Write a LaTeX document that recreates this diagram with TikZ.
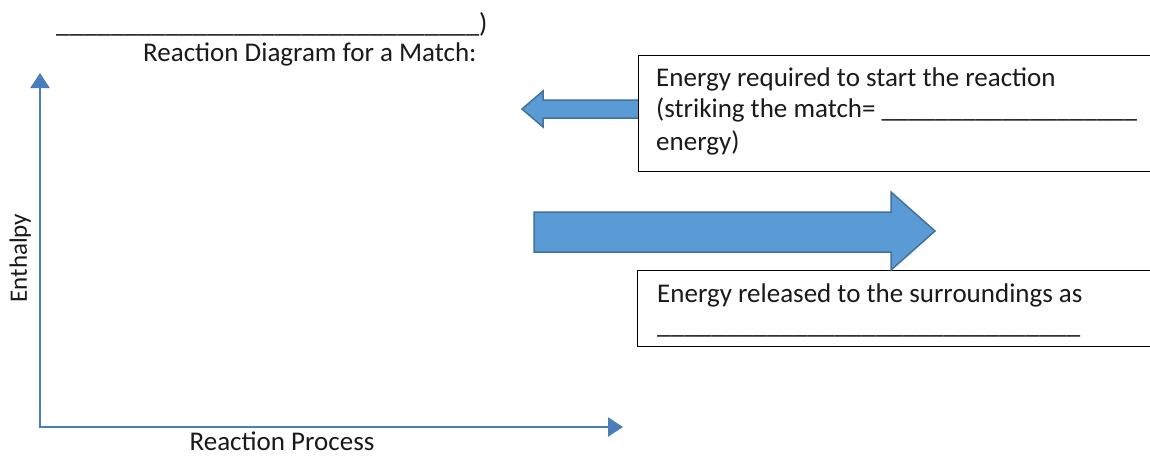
\documentclass[tikz,border=0pt]{standalone}
\usepackage{fontspec}
\setmainfont{Carlito}
\usetikzlibrary{arrows.meta}
\definecolor{axisblue}{HTML}{4A7EBB}
\definecolor{arrowfill}{HTML}{5B9BD5}
\definecolor{arrowedge}{HTML}{41719C}
\definecolor{txtgray}{HTML}{1A1A1A}
\newcommand{\blanks}[1]{\foreach \i in {1,...,#1}{\_}}
\begin{document}
\begin{tikzpicture}[x=1pt,y=-1pt,
  txt/.style={inner sep=0pt,anchor=base west,text=txtgray,font=\fontsize{27}{33}\selectfont},
  axis/.style={line width=2.5pt,draw=axisblue,line join=miter,
    {Triangle[width=19pt,length=15pt,fill=axisblue]}-{Triangle[width=19pt,length=15pt,fill=axisblue]}},
  blockarrow/.style={fill=arrowfill,draw=arrowedge,line width=1.5pt,line join=miter},
  box/.style={draw=black,line width=1.3pt,fill=white,inner sep=0pt,anchor=north west}]
\useasboundingbox (0,0) rectangle (1150,456);
\clip (0,0) rectangle (1150,456);
\fill[white] (0,0) rectangle (1150,456);

% axes
\coordinate (O) at (40,427);
\coordinate (Ytip) at (40,73);
\coordinate (Xtip) at (623,427);
\draw[axis] (Ytip) -- (O) -- (Xtip);

% title
\node[txt,font=\fontsize{27.4}{33}\selectfont] (blank) at (56,32) {\blanks{31})};
\node[txt] (title) at (143,61) {Reaction Diagram for a Match:};

% axis labels
\node[txt,anchor=base] (xlab) at (282,450) {Reaction Process};
\node[inner sep=0pt,text=txtgray,font=\fontsize{25}{30}\selectfont,rotate=90,anchor=base] (ylab) at (27,258) {Enthalpy};

% small arrow (behind box 1)
\draw[blockarrow] (640,100) -- (543,100) -- (543,91) -- (522,109) -- (543,127) -- (543,118) -- (640,118) -- cycle;

% boxes
\node[box,minimum width=540pt,minimum height=116pt] (box1) at (638,55) {};
\node[box,minimum width=540pt,minimum height=76pt] (box2) at (637,270) {};

% big arrow
\draw[blockarrow] (534,212) -- (891,212) -- (891,192) -- (935,231) -- (891,270) -- (891,252) -- (534,252) -- cycle;

% box texts
\node[txt] (t1) at (656,86) {Energy required to start the reaction};
\node[txt] (t2) at (656,117) {(striking the match= \blanks{19}};
\node[txt] (t3) at (656,150) {energy)};
\node[txt] (t4) at (657,302) {Energy released to the surroundings as};
\node[txt,font=\fontsize{27.4}{33}\selectfont] (t5) at (657,333) {\blanks{31}};
\end{tikzpicture}
\end{document}
